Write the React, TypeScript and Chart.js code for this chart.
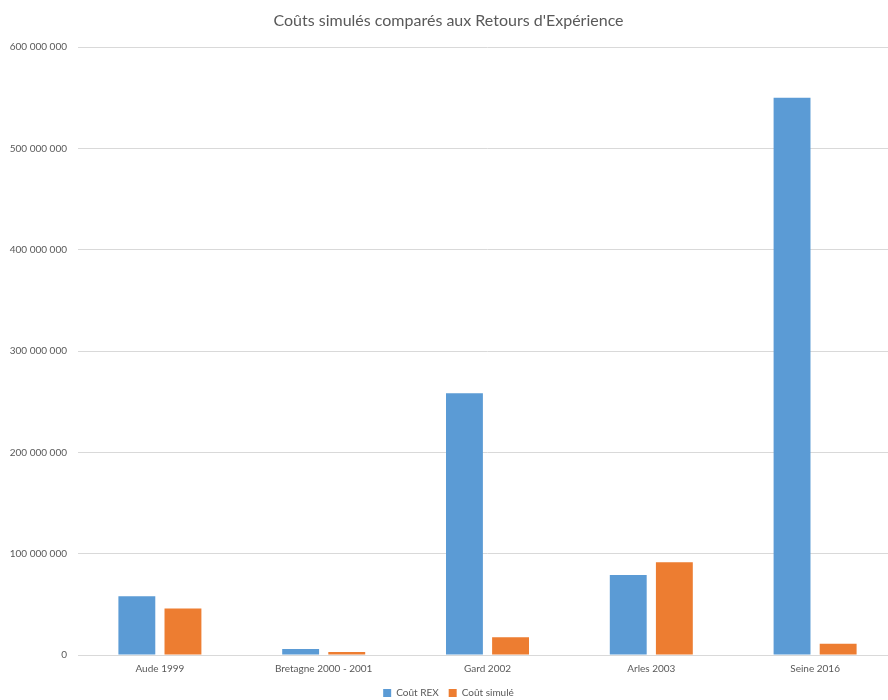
import React, { useEffect, useRef } from "react";
import { Chart, registerables } from "chart.js";

Chart.register(...registerables);

const categories = ["Aude 1999", "Bretagne 2000 - 2001", "Gard 2002", "Arles 2003", "Seine 2016"];
const coutREX = [58000000, 6000000, 258500000, 79000000, 550000000];
const coutSimule = [46000000, 3000000, 17500000, 91500000, 11000000];
const yTicks = [0, 100000000, 200000000, 300000000, 400000000, 500000000, 600000000];

const FONT = "Lato, 'Open Sans', sans-serif";
const fmt = (v: number) => String(Math.round(v)).replace(/\B(?=(\d{3})+(?!\d))/g, " ");

export default function App() {
  const ref = useRef<HTMLCanvasElement | null>(null);
  useEffect(() => {
    document.body.style.overflow = "hidden";
    const chart = new Chart(ref.current!, {
      type: "bar",
      data: {
        labels: categories,
        datasets: [
          { label: "Coût REX", data: coutREX, backgroundColor: "#5B9BD5", borderWidth: 0 },
          { label: "Coût simulé", data: coutSimule, backgroundColor: "#ED7D31", borderWidth: 0 },
        ],
      },
      options: {
        animation: false,
        responsive: false,
        layout: { padding: { left: 0, right: 0, top: 11, bottom: -8 } },
        datasets: { bar: { categoryPercentage: 0.563, barPercentage: 0.8 } },
        plugins: {
          title: {
            display: true,
            text: "Coûts simulés comparés aux Retours d'Expérience",
            color: "#595959",
            font: { family: FONT, size: 16, weight: "normal" },
            padding: { top: 0, bottom: 17 },
          },
          legend: {
            position: "bottom",
            labels: {
              color: "#595959",
              font: { family: FONT, size: 10 },
              boxWidth: 8,
              boxHeight: 8,
              padding: 5,
              generateLabels: (c: any) => {
                const items = Chart.defaults.plugins.legend.labels.generateLabels(c);
                if (items.length) items[0].text = items[0].text + "\u2002";
                return items;
              },
            },
          },
          tooltip: { enabled: false },
        },
        scales: {
          x: {
            grid: { display: false, drawTicks: false },
            border: { display: true, color: "#d9d9d9" },
            ticks: { color: "#595959", font: { family: FONT, size: 10 }, padding: 8, maxRotation: 0, autoSkip: false },
          },
          y: {
            min: 0,
            max: 600000000,
            afterBuildTicks: (scale: any) => {
              scale.ticks = yTicks.map((v) => ({ value: v }));
            },
            afterFit: (scale: any) => {
              scale.width = 78;
            },
            grid: { color: "#d9d9d9", drawTicks: false },
            border: { display: false },
            ticks: {
              color: "#595959",
              font: { family: FONT, size: 10 },
              padding: 11,
              callback: (v: any) => fmt(Number(v)),
            },
          },
        },
      },
    });
    return () => chart.destroy();
  }, []);
  return (
    <div style={{ position: "absolute", left: 0, top: 0, width: 897, height: 700 }}>
      <canvas ref={ref} width={897} height={700} />
    </div>
  );
}
